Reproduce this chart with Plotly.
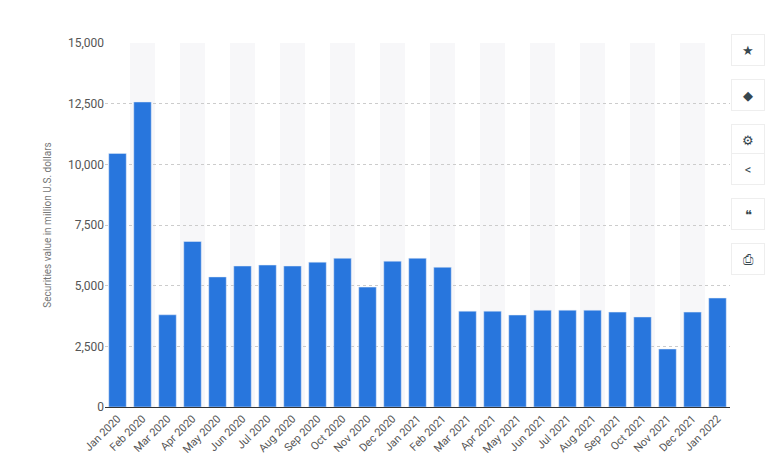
import plotly.graph_objects as go

months = ["Jan 2020","Feb 2020","Mar 2020","Apr 2020","May 2020","Jun 2020","Jul 2020","Aug 2020",
          "Sep 2020","Oct 2020","Nov 2020","Dec 2020","Jan 2021","Feb 2021","Mar 2021","Apr 2021",
          "May 2021","Jun 2021","Jul 2021","Aug 2021","Sep 2021","Oct 2021","Nov 2021","Dec 2021","Jan 2022"]
values = [10450, 12570, 3800, 6820, 5360, 5810, 5850, 5810, 5970, 6130, 4940, 6010, 6130, 5760,
          3950, 3950, 3790, 3990, 3990, 3990, 3910, 3710, 2390, 3910, 4490]
y_ticks = [0, 2500, 5000, 7500, 10000, 12500, 15000]
y_title = "Securities value in million U.S. dollars"
icons = ["★", "◆", "⚙", "<", "❝", "⎙"]

L, R, T, B = 97, 60, 35, 72
W, H = 782, 471

fig = go.Figure(go.Bar(x=list(range(len(months))), y=values, marker_color="#2876dd", width=0.7))

shapes = []
for i in range(1, len(months), 2):
    shapes.append(dict(type="rect", xref="x", yref="paper", x0=i-0.5, x1=i+0.5, y0=0, y1=1,
                       fillcolor="#f7f7f9", line_width=0, layer="below"))

pw = W - L - R
ph = H - T - B
anns = []
for k, ic in enumerate(icons):
    py = 26 + k * 45
    anns.append(dict(text=ic, x=(757 - L) / pw, y=(H - B - py) / ph, xref="paper", yref="paper",
                     showarrow=False, font=dict(size=13, color="#37474f"), bgcolor="white",
                     bordercolor="#eeeeee", borderwidth=1, width=30, height=28))

fig.update_layout(
    width=W, height=H, margin=dict(l=L, r=R, t=T, b=B, autoexpand=False),
    plot_bgcolor="white", paper_bgcolor="white", showlegend=False,
    shapes=shapes, annotations=anns,
    font=dict(family="Roboto, Arial", color="#666666"),
    xaxis=dict(tickmode="array", tickvals=list(range(len(months))), ticktext=months, tickangle=-45,
               tickfont=dict(size=11, color="#555555"), range=[-0.5, len(months)-0.5],
               showgrid=False, showline=True, linecolor="#333333", linewidth=1, ticks="",
               automargin=False),
    yaxis=dict(range=[0, 15000], tickvals=y_ticks, tickformat=",", tickfont=dict(size=12, color="#555555"),
               showgrid=True, gridcolor="#cccccc", griddash="dot", zeroline=False, automargin=False,
               title=dict(text=y_title, font=dict(size=10, color="#777777"), standoff=14)),
)

fig.write_html("out.html")
